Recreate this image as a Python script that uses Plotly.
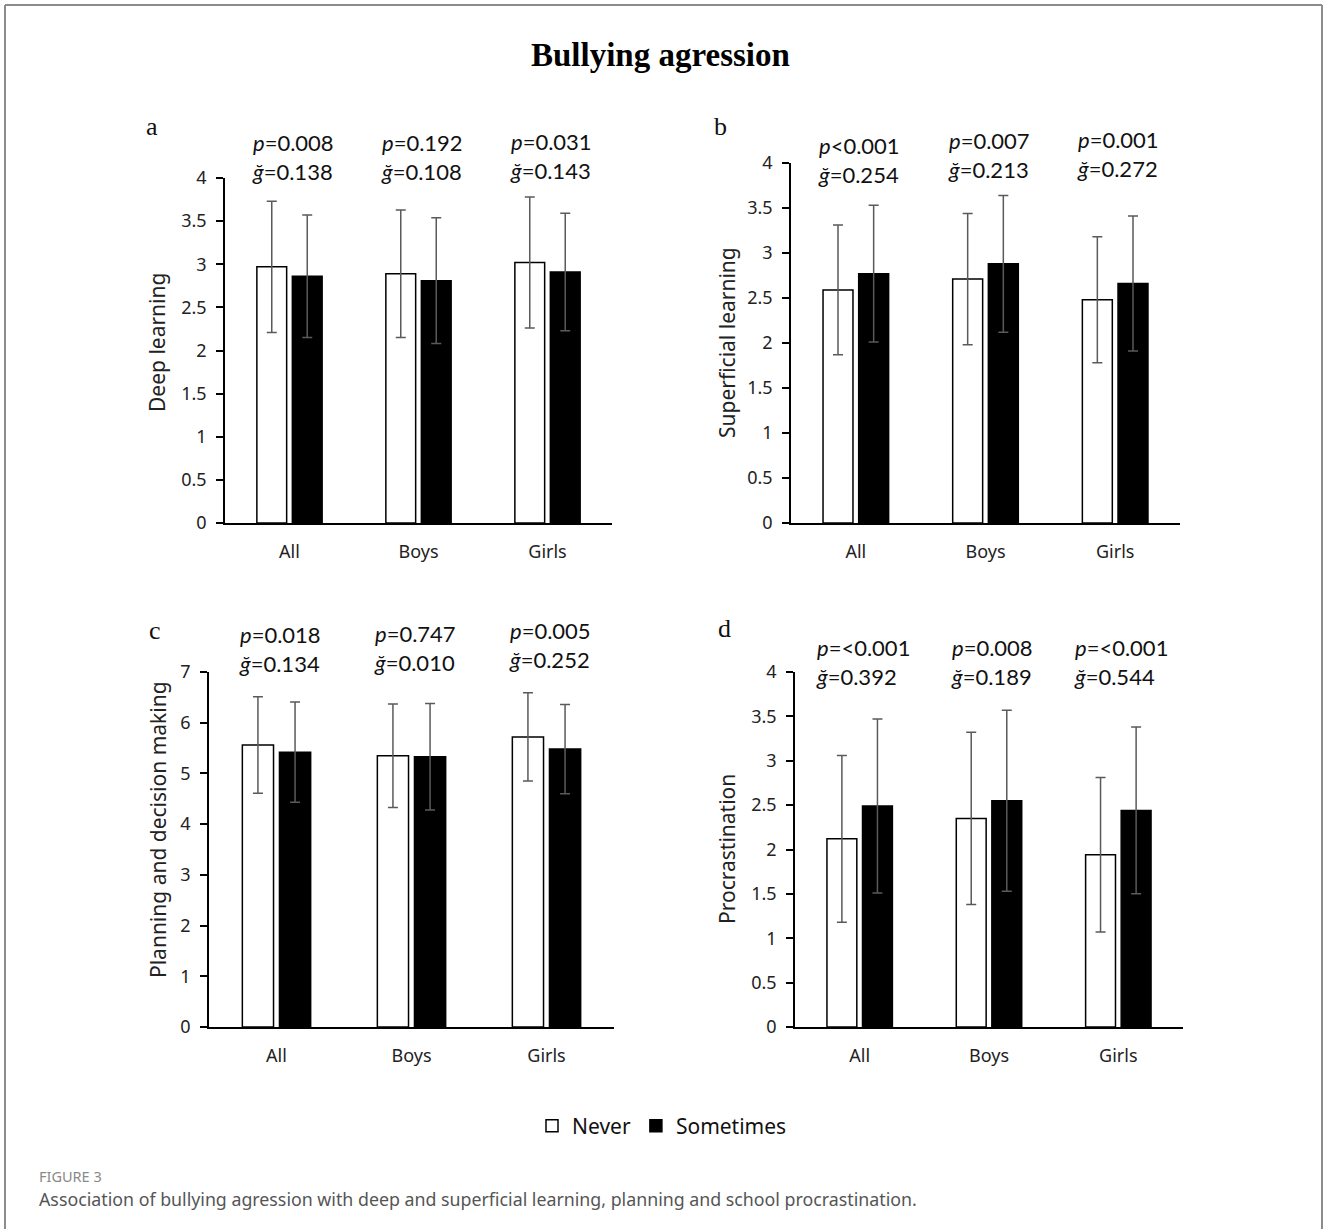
import plotly.graph_objects as go

# ---- data -------------------------------------------------------------
categories = ["All", "Boys", "Girls"]

deep_never = [2.97, 2.89, 3.02]
deep_never_sd = [0.76, 0.74, 0.76]
deep_some = [2.86, 2.81, 2.91]
deep_some_sd = [0.71, 0.73, 0.68]

sup_never = [2.59, 2.71, 2.48]
sup_never_sd = [0.72, 0.73, 0.70]
sup_some = [2.77, 2.88, 2.66]
sup_some_sd = [0.76, 0.76, 0.75]

plan_never = [5.56, 5.35, 5.72]
plan_never_sd = [0.95, 1.02, 0.87]
plan_some = [5.42, 5.33, 5.48]
plan_some_sd = [0.99, 1.05, 0.88]

proc_never = [2.12, 2.35, 1.94]
proc_never_sd = [0.94, 0.97, 0.87]
proc_some = [2.49, 2.55, 2.44]
proc_some_sd = [0.98, 1.02, 0.94]

p_deep = ["0.008", "0.192", "0.031"]
g_deep = ["0.138", "0.108", "0.143"]
p_sup = ["<0.001", "0.007", "0.001"]
g_sup = ["0.254", "0.213", "0.272"]
p_plan = ["0.018", "0.747", "0.005"]
g_plan = ["0.134", "0.010", "0.252"]
p_proc = ["=<0.001", "0.008", "=<0.001"]
g_proc = ["0.392", "0.189", "0.544"]

y_titles = ["Deep learning", "Superficial learning",
            "Planning and decision making", "Procrastination"]
panel_letters = ["a", "b", "c", "d"]

# ---- layout geometry (pixels) -----------------------------------------
W, H = 1328, 1229
SANS = "'Noto Sans', 'Open Sans', sans-serif"
LABEL = "Lato, 'Noto Sans', sans-serif"
SERIF = "'Liberation Serif', 'Times New Roman', serif"


def px(x):
    return x / W


def py(y):
    return 1 - y / H


panels = [
    dict(x=(225, 612), y=(523, 178), ymax=4, dtick=0.5,
         never=deep_never, never_sd=deep_never_sd, some=deep_some, some_sd=deep_some_sd,
         p=p_deep, g=g_deep, ann_y=[156.5, 156.5, 156], letter=(152, 127),
         title_xy=(157, 343)),
    dict(x=(791, 1180), y=(523, 163), ymax=4, dtick=0.5,
         never=sup_never, never_sd=sup_never_sd, some=sup_some, some_sd=sup_some_sd,
         p=p_sup, g=g_sup, ann_y=[160, 155.5, 153.5], letter=(720, 127),
         title_xy=(727, 343)),
    dict(x=(209, 614), y=(1027, 672), ymax=7, dtick=1,
         never=plan_never, never_sd=plan_never_sd, some=plan_some, some_sd=plan_some_sd,
         p=p_plan, g=g_plan, ann_y=[648.5, 648, 644.5], letter=(155, 631),
         title_xy=(158, 830)),
    dict(x=(795, 1183), y=(1027, 672), ymax=4, dtick=0.5,
         never=proc_never, never_sd=proc_never_sd, some=proc_some, some_sd=proc_some_sd,
         p=p_proc, g=g_proc, ann_y=[662.5, 662.5, 662.5], letter=(724, 628),
         title_xy=(727, 849)),
]

fig = go.Figure()
annotations = []
err_style = dict(type="data", visible=True, color="#5a5a5a", thickness=1.5, width=5)

for i, pn in enumerate(panels):
    n = i + 1
    xa = "x" if n == 1 else f"x{n}"
    ya = "y" if n == 1 else f"y{n}"
    fig.add_trace(go.Bar(
        x=categories, y=pn["never"], name="Never", legendgroup="never",
        showlegend=(i == 0), xaxis=xa, yaxis=ya,
        marker=dict(color="white", line=dict(color="black", width=1.5)),
        error_y=dict(array=pn["never_sd"], **err_style),
    ))
    fig.add_trace(go.Bar(
        x=categories, y=pn["some"], name="Sometimes", legendgroup="some",
        showlegend=(i == 0), xaxis=xa, yaxis=ya,
        marker=dict(color="black", line=dict(color="black", width=1.5)),
        error_y=dict(array=pn["some_sd"], **err_style),
    ))

    xkey = "xaxis" if n == 1 else f"xaxis{n}"
    ykey = "yaxis" if n == 1 else f"yaxis{n}"
    fig.layout[xkey] = dict(
        domain=[px(pn["x"][0]), px(pn["x"][1])], anchor=ya,
        showline=True, linecolor="black", linewidth=1.5, ticks="",
        tickfont=dict(family=SANS, size=18, color="#222"),
        ticklabelstandoff=12, showgrid=False, zeroline=False,
        automargin=False, fixedrange=True,
    )
    fig.layout[ykey] = dict(
        domain=[py(pn["y"][0]), py(pn["y"][1])], anchor=xa,
        range=[0, pn["ymax"]], dtick=pn["dtick"], tick0=0,
        showline=True, linecolor="black", linewidth=1.5,
        ticks="outside", ticklen=7, tickwidth=1.5, tickcolor="black",
        tickfont=dict(family=SANS, size=18, color="#222"),
        ticklabelstandoff=6, showgrid=False, zeroline=False,
        automargin=False, fixedrange=True,
    )

    # p-value and effect-size labels above each group
    for j, cat in enumerate(categories):
        pv = pn["p"][j]
        ptxt = f"<i>p</i>{pv}" if pv.startswith(("<", "=")) else f"<i>p</i>={pv}"
        annotations.append(dict(
            x=cat, xref=xa, y=py(pn["ann_y"][j]), yref="paper",
            text=f"{ptxt}<br><i>ğ</i>={pn['g'][j]}", showarrow=False,
            xanchor="center", yanchor="middle", align="left", xshift=3,
            font=dict(family=LABEL, size=22, color="#111"),
        ))

    # panel letter
    annotations.append(dict(
        x=px(pn["letter"][0]), y=py(pn["letter"][1]), xref="paper", yref="paper",
        text=panel_letters[i], showarrow=False, xanchor="center", yanchor="middle",
        font=dict(family=SERIF, size=26, color="#111"),
    ))
    # y-axis title
    annotations.append(dict(
        x=px(pn["title_xy"][0]), y=py(pn["title_xy"][1]), xref="paper", yref="paper",
        text=y_titles[i], showarrow=False, textangle=-90,
        xanchor="center", yanchor="middle",
        font=dict(family=SANS, size=21, color="#222"),
    ))

# main title
annotations.append(dict(
    x=px(660), y=py(55), xref="paper", yref="paper", text="<b>Bullying agression</b>",
    showarrow=False, xanchor="center", yanchor="middle",
    font=dict(family=SERIF, size=33, color="black"),
))
# caption
annotations.append(dict(
    x=px(37), y=py(1176), xref="paper", yref="paper", text="FIGURE 3",
    showarrow=False, xanchor="left", yanchor="middle",
    font=dict(family=SANS, size=14.5, color="#8a8a8a"),
))
annotations.append(dict(
    x=px(37), y=py(1199), xref="paper", yref="paper",
    text="Association of bullying agression with deep and superficial learning, "
         "planning and school procrastination.",
    showarrow=False, xanchor="left", yanchor="middle",
    font=dict(family=SANS, size=17.8, color="#555"),
))

# grey frame around the figure
frame = dict(color="#8c8c8c", width=2)
shapes = [
    dict(type="line", xref="paper", yref="paper", x0=px(5), x1=px(1322), y0=py(5), y1=py(5), line=frame),
    dict(type="line", xref="paper", yref="paper", x0=px(5), x1=px(5), y0=py(5), y1=0, line=frame),
    dict(type="line", xref="paper", yref="paper", x0=px(1322), x1=px(1322), y0=py(5), y1=0, line=frame),
]

fig.update_layout(
    width=W, height=H, margin=dict(l=0, r=0, t=0, b=0),
    paper_bgcolor="white", plot_bgcolor="white",
    barmode="group", bargap=0.45, bargroupgap=0.16,
    annotations=annotations, shapes=shapes,
    showlegend=True,
    legend=dict(orientation="h", x=px(662), xanchor="center", y=py(1126), yanchor="middle",
                font=dict(family=SANS, size=21, color="#111"), traceorder="normal",
                itemwidth=30, bgcolor="rgba(0,0,0,0)"),
)

fig.write_html("out.html")
